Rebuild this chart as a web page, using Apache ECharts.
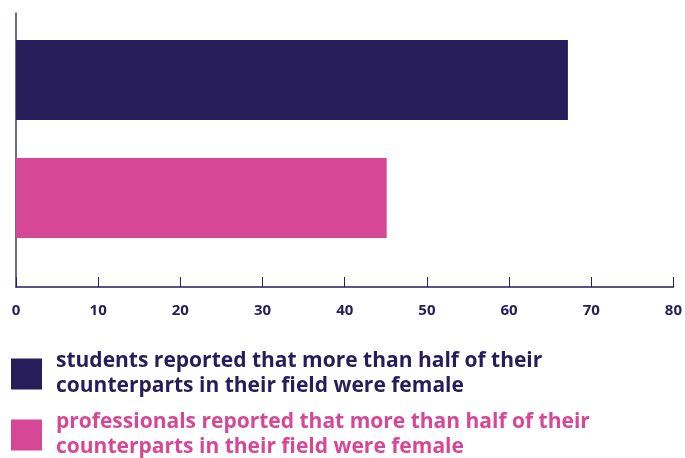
<!DOCTYPE html>
<html><head><meta charset="utf-8">
<script src="https://cdn.jsdelivr.net/npm/echarts@6/dist/echarts.min.js"></script>
<style>html,body{margin:0;padding:0;background:#fff}#c{width:685px;height:458px}</style>
</head><body><div id="c"></div>
<script>
const categories = ['students', 'professionals'];
const seriesNames = [
  'students reported that more than half of their\ncounterparts in their field were female',
  'professionals reported that more than half of their\ncounterparts in their field were female'
];
const studentValues = [67, '-'];
const professionalValues = ['-', 45];
const xTicks = [0, 80, 10]; // min, max, interval

const NAVY = '#261d5a';
const PINK = '#d64796';
const FONT = '"Open Sans", Lato, sans-serif';

const chart = echarts.init(document.getElementById('c'));
chart.setOption({
  animation: false,
  grid: [
    {left: 16, right: 10, top: 21, height: 236},
    {left: 16, right: 10, top: 13, height: 274}
  ],
  xAxis: [
    {gridIndex: 0, type: 'value', min: xTicks[0], max: xTicks[1], interval: xTicks[2], show: false},
    {gridIndex: 1, type: 'value', min: xTicks[0], max: xTicks[1], interval: xTicks[2],
     axisLine: {show: true, lineStyle: {color: NAVY, width: 1.5}},
     axisTick: {show: true, inside: true, length: 10, lineStyle: {color: NAVY, width: 1}},
     axisLabel: {color: NAVY, fontSize: 15, fontWeight: 'bold', fontFamily: FONT, margin: 16},
     splitLine: {show: false}}
  ],
  yAxis: [
    {gridIndex: 0, type: 'category', data: categories, inverse: true, show: false},
    {gridIndex: 1, type: 'category', data: categories, inverse: true,
     axisLine: {show: true, lineStyle: {color: '#3e3868', width: 1.5}},
     axisTick: {show: false}, axisLabel: {show: false}}
  ],
  legend: {
    orient: 'vertical', left: 11, top: 349, width: 660, height: 130, padding: 0,
    itemWidth: 31, itemHeight: 31, itemGap: 11, icon: 'rect',
    selectedMode: false,
    textStyle: {fontSize: 21, lineHeight: 25, fontWeight: 'bold', fontFamily: FONT, padding: [0,0,0,9]},
    data: [
      {name: seriesNames[0], textStyle: {color: NAVY}},
      {name: seriesNames[1], textStyle: {color: PINK}}
    ]
  },
  series: [
    {name: seriesNames[0], type: 'bar', xAxisIndex: 0, yAxisIndex: 0, data: studentValues,
     barWidth: 80, barGap: '-100%', itemStyle: {color: NAVY}},
    {name: seriesNames[1], type: 'bar', xAxisIndex: 0, yAxisIndex: 0, data: professionalValues,
     barWidth: 80, barGap: '-100%', itemStyle: {color: PINK}}
  ]
});
</script></body></html>
